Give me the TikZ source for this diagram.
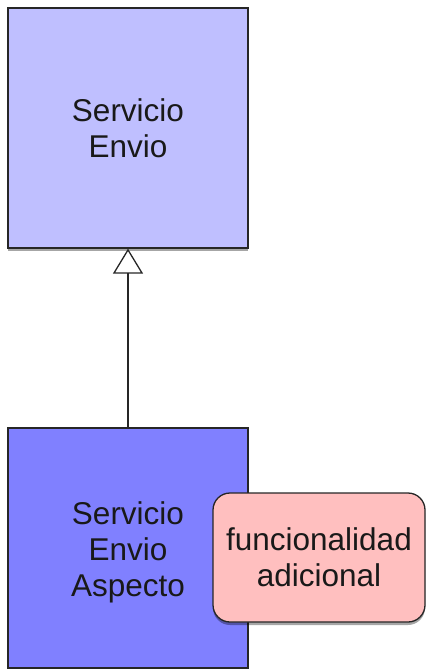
\documentclass[tikz,border=0pt]{standalone}
\usepackage{fontspec}
\setmainfont{Liberation Sans}
\usetikzlibrary{arrows.meta,shadows}
\begin{document}
\begin{tikzpicture}[x=1pt,y=-1pt,
  box/.style={draw=black!85, line width=1.3pt, inner sep=0pt, align=center,
    font=\fontsize{31.5}{36}\selectfont, text=black!90,
    drop shadow={shadow xshift=0pt, shadow yshift=-3pt, opacity=0.35, fill=black}},
  svc/.style={box, minimum width=240pt, minimum height=240pt},
  lbl/.style={inner sep=0pt, align=center, font=\fontsize{31.5}{36}\selectfont, text=black!90},
  note/.style={box, rounded corners=17pt, minimum width=212pt, minimum height=129pt},
  inherit/.style={line width=1.3pt, draw=black!85, -{Triangle[open, width=30pt, length=25pt, line width=1.3pt]}}
]
\useasboundingbox (0,0) rectangle (427,669);
\node[svc, fill={rgb,255:red,191;green,191;blue,255}] (top) at (128,128) {Servicio\\Envio};
\node[svc, fill={rgb,255:red,128;green,128;blue,255}] (bot) at (128,548) {};
\node[lbl] (botlabel) at (128,552) {Servicio\\Envio\\Aspecto};
\node[note, fill={rgb,255:red,255;green,191;blue,191}] (add) at (319,557.5) {funcionalidad\\adicional};
\draw[inherit] (bot.north) -- (top.south);
\end{tikzpicture}
\end{document}
